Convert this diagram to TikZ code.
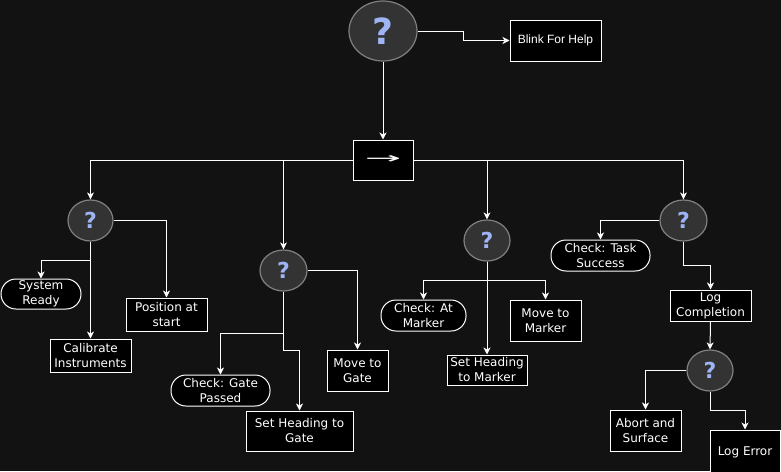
\documentclass[tikz,border=0pt]{standalone}
\usepackage{fontspec}
\setmainfont{DejaVu Sans}
\newfontfamily\arialfont{Liberation Sans}
\newfontfamily\arrowfont{DejaVu Sans}
\usetikzlibrary{arrows.meta,shapes.geometric}
\definecolor{bgc}{RGB}{18,18,18}
\definecolor{qfill}{RGB}{51,51,51}
\definecolor{qborder}{RGB}{128,128,128}
\definecolor{qmark}{RGB}{158,180,245}
\tikzset{
  actbox/.style={draw=white, fill=black, text=white, line width=1pt, rectangle, inner sep=0pt, align=center,
    font=\fontsize{12}{15}\selectfont},
  condbox/.style={actbox, rounded corners=15pt},
  decide/.style={draw=qborder, fill=qfill, ellipse, line width=1.2pt, inner sep=0pt, text=qmark,
    font=\fontsize{22}{22}\selectfont\bfseries},
  link/.style={draw=white, line width=1pt, -{Stealth[length=7pt,width=7pt,inset=2pt]}},
  plain/.style={draw=white, line width=1pt}
}
\begin{document}
\begin{tikzpicture}[x=1pt,y=-1pt]
\fill[bgc] (0,0) rectangle (781,471);
\useasboundingbox (0,0) rectangle (781,471);

% nodes
\node[decide, minimum width=68pt, minimum height=60pt, font=\fontsize{36}{36}\selectfont\bfseries] (q0) at (383,31) {\raisebox{-2pt}{?}};
\node[actbox, minimum width=91pt, minimum height=41pt, font=\arialfont\fontsize{12}{15}\selectfont] (blink) at (555.5,40.5) {Blink For Help};
\node[actbox, minimum width=60pt, minimum height=40pt] (seq) at (383,160) {};
\node[text=white, font=\arrowfont\fontsize{15}{15}\selectfont] (seqlbl) at (383,159.5) {\scalebox{2.9}[1]{→}};

\node[decide, minimum width=45pt, minimum height=41pt] (q1) at (90.5,220.5) {?};
\node[condbox, minimum width=80pt, minimum height=30pt] (sysready) at (41,294) {System\\Ready};
\node[actbox, minimum width=81pt, minimum height=33pt] (calib) at (90.5,355.5) {Calibrate\\Instruments};
\node[actbox, minimum width=81pt, minimum height=33pt] (posstart) at (166.5,314.5) {Position at\\start};

\node[decide, minimum width=47pt, minimum height=41pt] (q2) at (283.5,270.5) {?};
\node[condbox, minimum width=99pt, minimum height=31pt] (chkgate) at (220.5,390.5) {Check: Gate\\Passed};
\node[actbox, minimum width=107pt, minimum height=40pt] (setgate) at (299.5,431) {Set Heading to\\Gate};
\node[actbox, minimum width=61pt, minimum height=41pt] (movegate) at (357.5,370.5) {Move to\\Gate};

\node[decide, minimum width=46pt, minimum height=41pt] (q3) at (487,240.5) {?};
\node[condbox, minimum width=85pt, minimum height=31pt] (chkmarker) at (423.5,315.5) {Check: At\\Marker};
\node[actbox, minimum width=71pt, minimum height=41pt] (movemarker) at (545.5,320.5) {Move to\\Marker};
\node[actbox, minimum width=80pt, minimum height=30pt] (sethdgmarker) at (487,370) {Set Heading\\to Marker};

\node[decide, minimum width=47pt, minimum height=41pt] (q4) at (683.5,220.5) {?};
\node[condbox, minimum width=99pt, minimum height=31pt] (chktask) at (600.5,255.5) {Check: Task\\Success};
\node[actbox, minimum width=81pt, minimum height=31pt] (logcomp) at (710.5,305.5) {Log\\Completion};
\node[decide, minimum width=46pt, minimum height=41pt] (q5) at (710,370.5) {?};
\node[actbox, minimum width=71pt, minimum height=41pt] (abort) at (645.5,430.5) {Abort and\\Surface};
\node[actbox, minimum width=70pt, minimum height=44pt] (logerr) at (745,452) {\raisebox{1.5pt}{Log Error}};

% connectors
\draw[link] (q0.east) -- ++(46,0) |- (blink.west);
\draw[link] (q0.south) -- (seq.north);
\draw[link] (seq.west) -| (q1.north);
\draw[link] (seq.west) -| (q2.north);
\draw[link] (seq.east) -| (q3.north);
\draw[link] (seq.east) -| (q4.north);

\draw[link] (q1.south) -- ++(0,19) -| (sysready.north);
\draw[link] (q1.south) -- (calib.north);
\draw[link] (q1.east) -| (posstart.north);

\draw[link] (q2.south) -- ++(0,42) -| (chkgate.north);
\draw[link] (q2.south) -- ++(0,59) -| (setgate.north);
\draw[link] (q2.east) -| (movegate.north);

\draw[link] (q3.south) -- ++(0,19) -| (chkmarker.north);
\draw[link] (q3.south) -- ++(0,19) -| (movemarker.north);
\draw[link] (q3.south) -- (sethdgmarker.north);

\draw[link] (q4.west) -| (chktask.north);
\draw[link] (q4.south) -- ++(0,24) -| (logcomp.north);
\draw[link] (logcomp.south) -- (q5.north);
\draw[link] (q5.west) -| (abort.north);
\draw[link] (q5.south) -- ++(0,19) -| (logerr.north);
\end{tikzpicture}
\end{document}
